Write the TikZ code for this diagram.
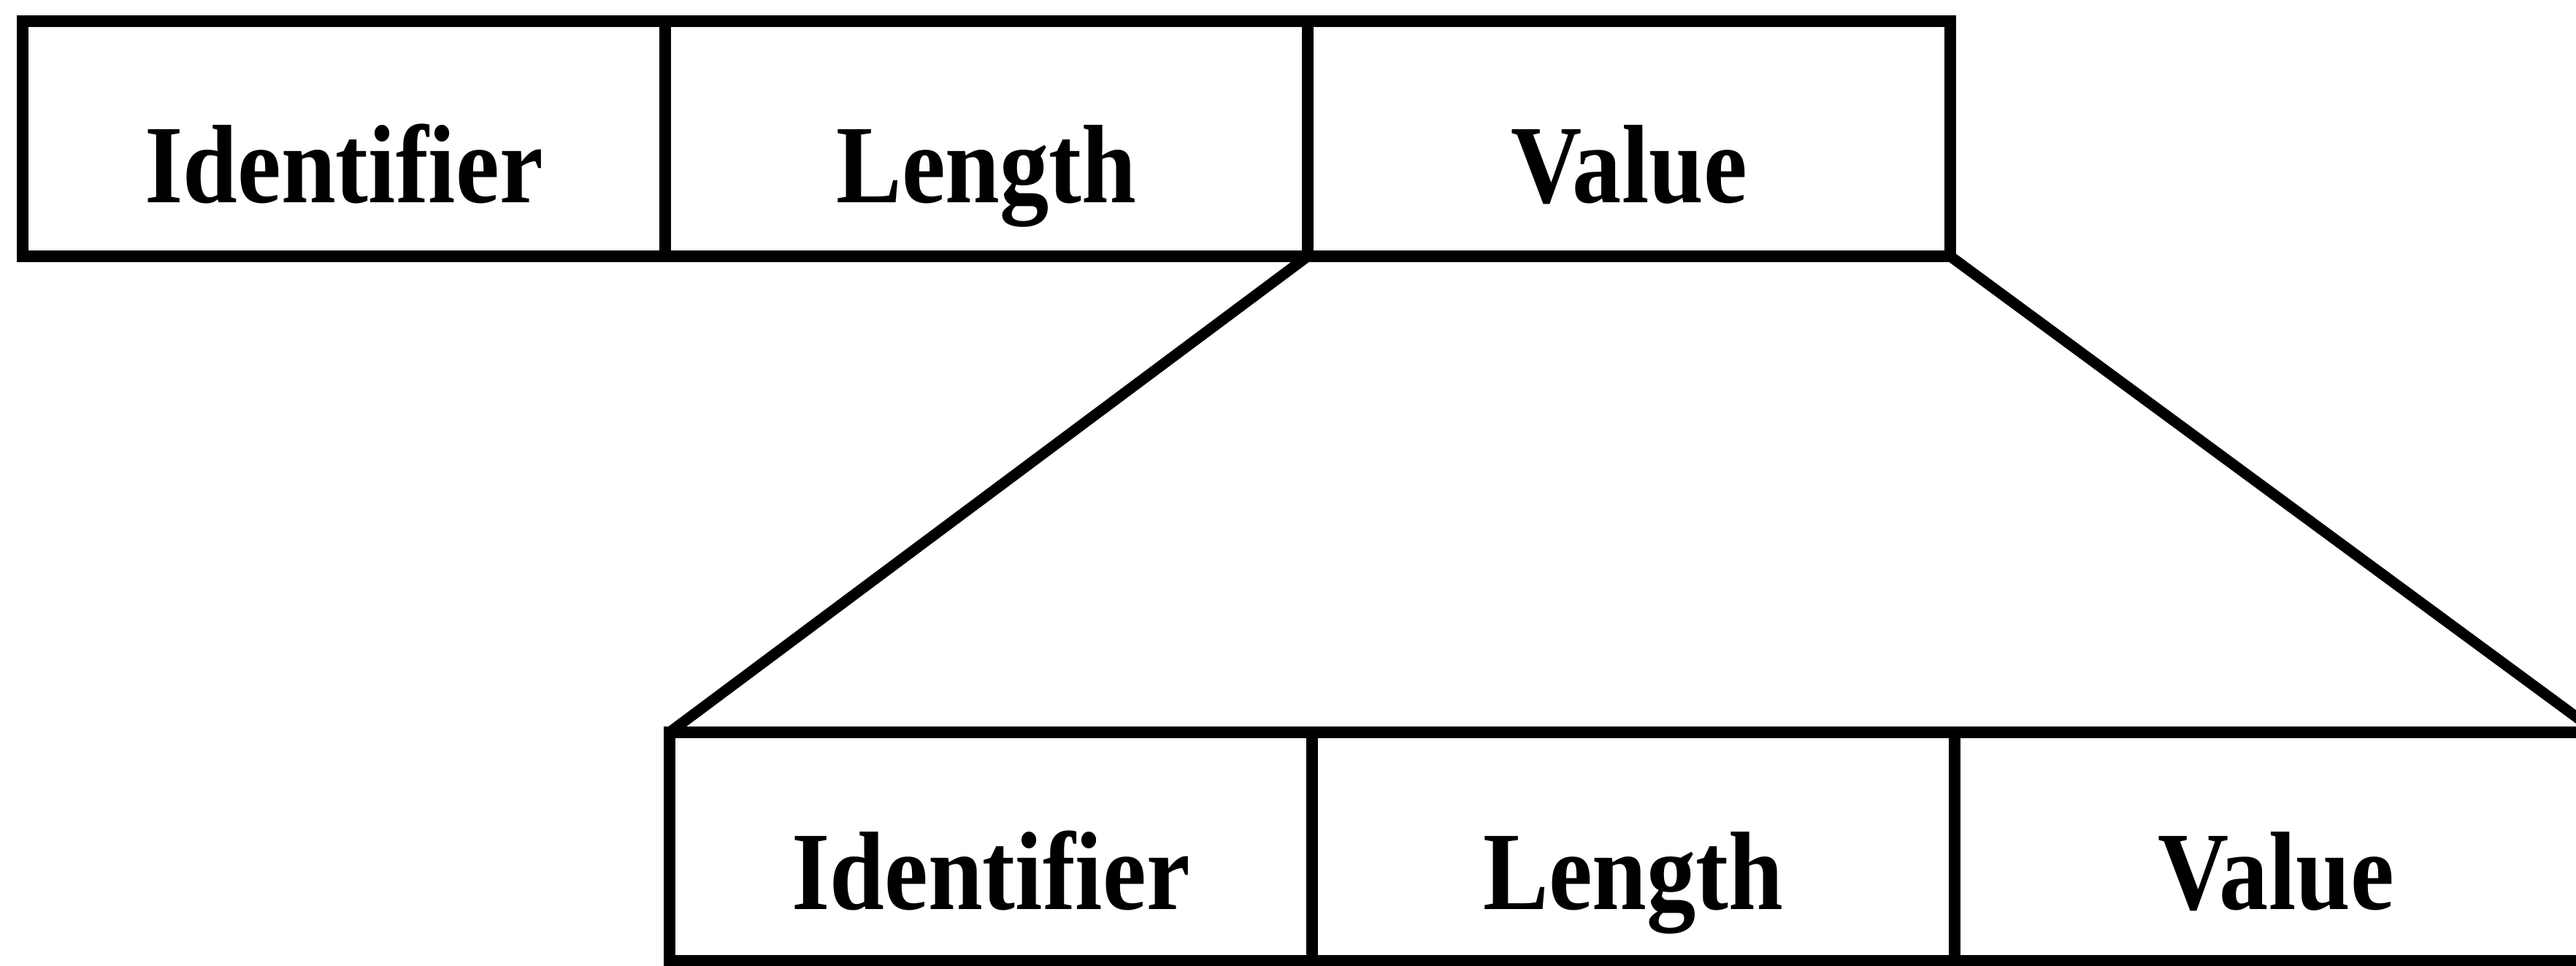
\documentclass[tikz,border=0pt]{standalone}
\usepackage{fontspec}
\newfontfamily\fieldfont[FakeStretch=0.88]{Liberation Serif}
\usepackage{tikz}
\usetikzlibrary{positioning}

\begin{document}
\begin{tikzpicture}[
    field/.style={draw, line width=4.4pt, outer sep=0pt, minimum width=8.8cm,
      minimum height=3.22cm, text height=1.74cm, text depth=0cm,
      font=\fieldfont\bfseries\fontsize{43.5}{52}\selectfont},
    link/.style={line width=4.2pt, line cap=round}
  ]
        \useasboundingbox (0,0) rectangle (35.28,-13.22);
        \node[field, anchor=north west] (idA) at (0.31,-0.29) {Identifier};
        \node[field, right=0pt of idA] (lenA) {Length};
        \node[field, right=0pt of lenA] (valA) {Value};
        \node[field, anchor=north west, minimum height=3.13cm, text height=1.72cm]
          (idB) at (9.17,-10.03) {Identifier};
        \node[field, minimum height=3.13cm, text height=1.72cm, right=0pt of idB] (lenB) {Length};
        \node[field, minimum height=3.13cm, text height=1.72cm, right=0pt of lenB] (valB) {Value};
        \draw[link] (valA.south west) -- (idB.north west);
        \draw[link] (valA.south east) -- (valB.north east);
      \end{tikzpicture}
\end{document}
